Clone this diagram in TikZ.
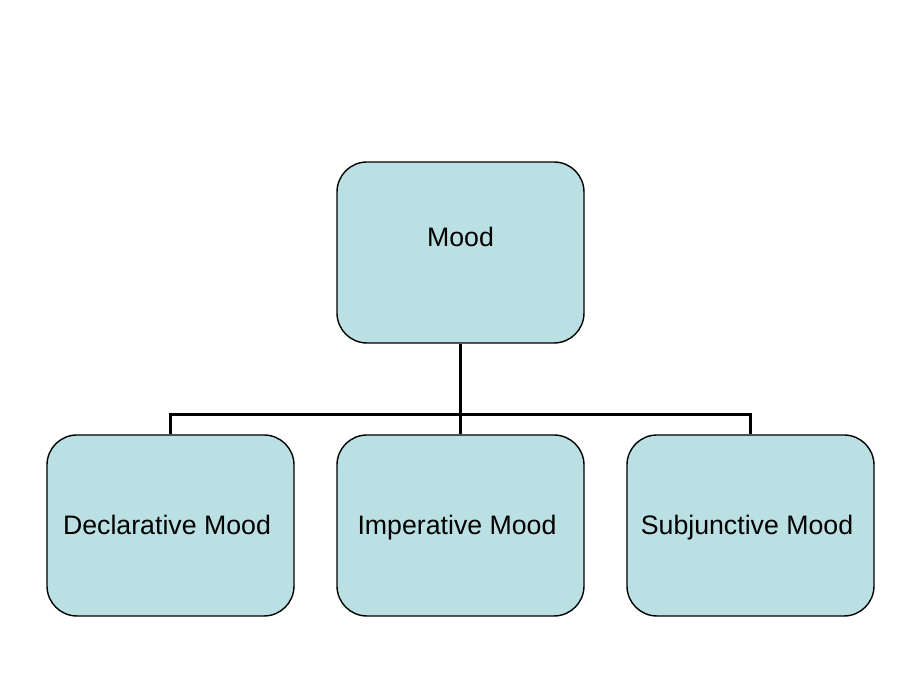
\documentclass[tikz,border=0pt]{standalone}
\usepackage{fontspec}
\setmainfont{Liberation Sans}
\definecolor{boxfill}{HTML}{BBE0E3}

\begin{document}
\begin{tikzpicture}[
  moodbox/.style={draw=black,line width=0.4pt,fill=boxfill,rounded corners=0.3cm,
    minimum width=2.47cm,minimum height=1.81cm,inner sep=0pt,
    font=\fontsize{7.6}{9}\selectfont},
  moodtext/.style={font=\fontsize{7.6}{9}\selectfont,text height=0.72em,text depth=0.21em,
    inner sep=0pt,xshift=-0.035cm},
  link/.style={draw=black,line width=0.85pt}]
\useasboundingbox (0,0) rectangle (9.2,6.9);

\node[moodbox,label={[yshift=0.155cm,font=\fontsize{7.6}{9}\selectfont]center:Mood}] at (4.605,4.375) (mood) {};
\node[moodbox,label={[moodtext]center:Declarative Mood}] at (1.705,1.645) (decl) {};
\node[moodbox,label={[moodtext]center:Imperative Mood}] at (4.605,1.645) (imp) {};
\node[moodbox,label={[moodtext]center:Subjunctive Mood}] at (7.505,1.645) (subj) {};

\coordinate (bus) at (4.605,2.75);
\draw[link] (mood.south) -- (bus);
\draw[link] (decl.north) |- (bus) -| (subj.north);
\draw[link] (bus) -- (imp.north);
\end{tikzpicture}
\end{document}
